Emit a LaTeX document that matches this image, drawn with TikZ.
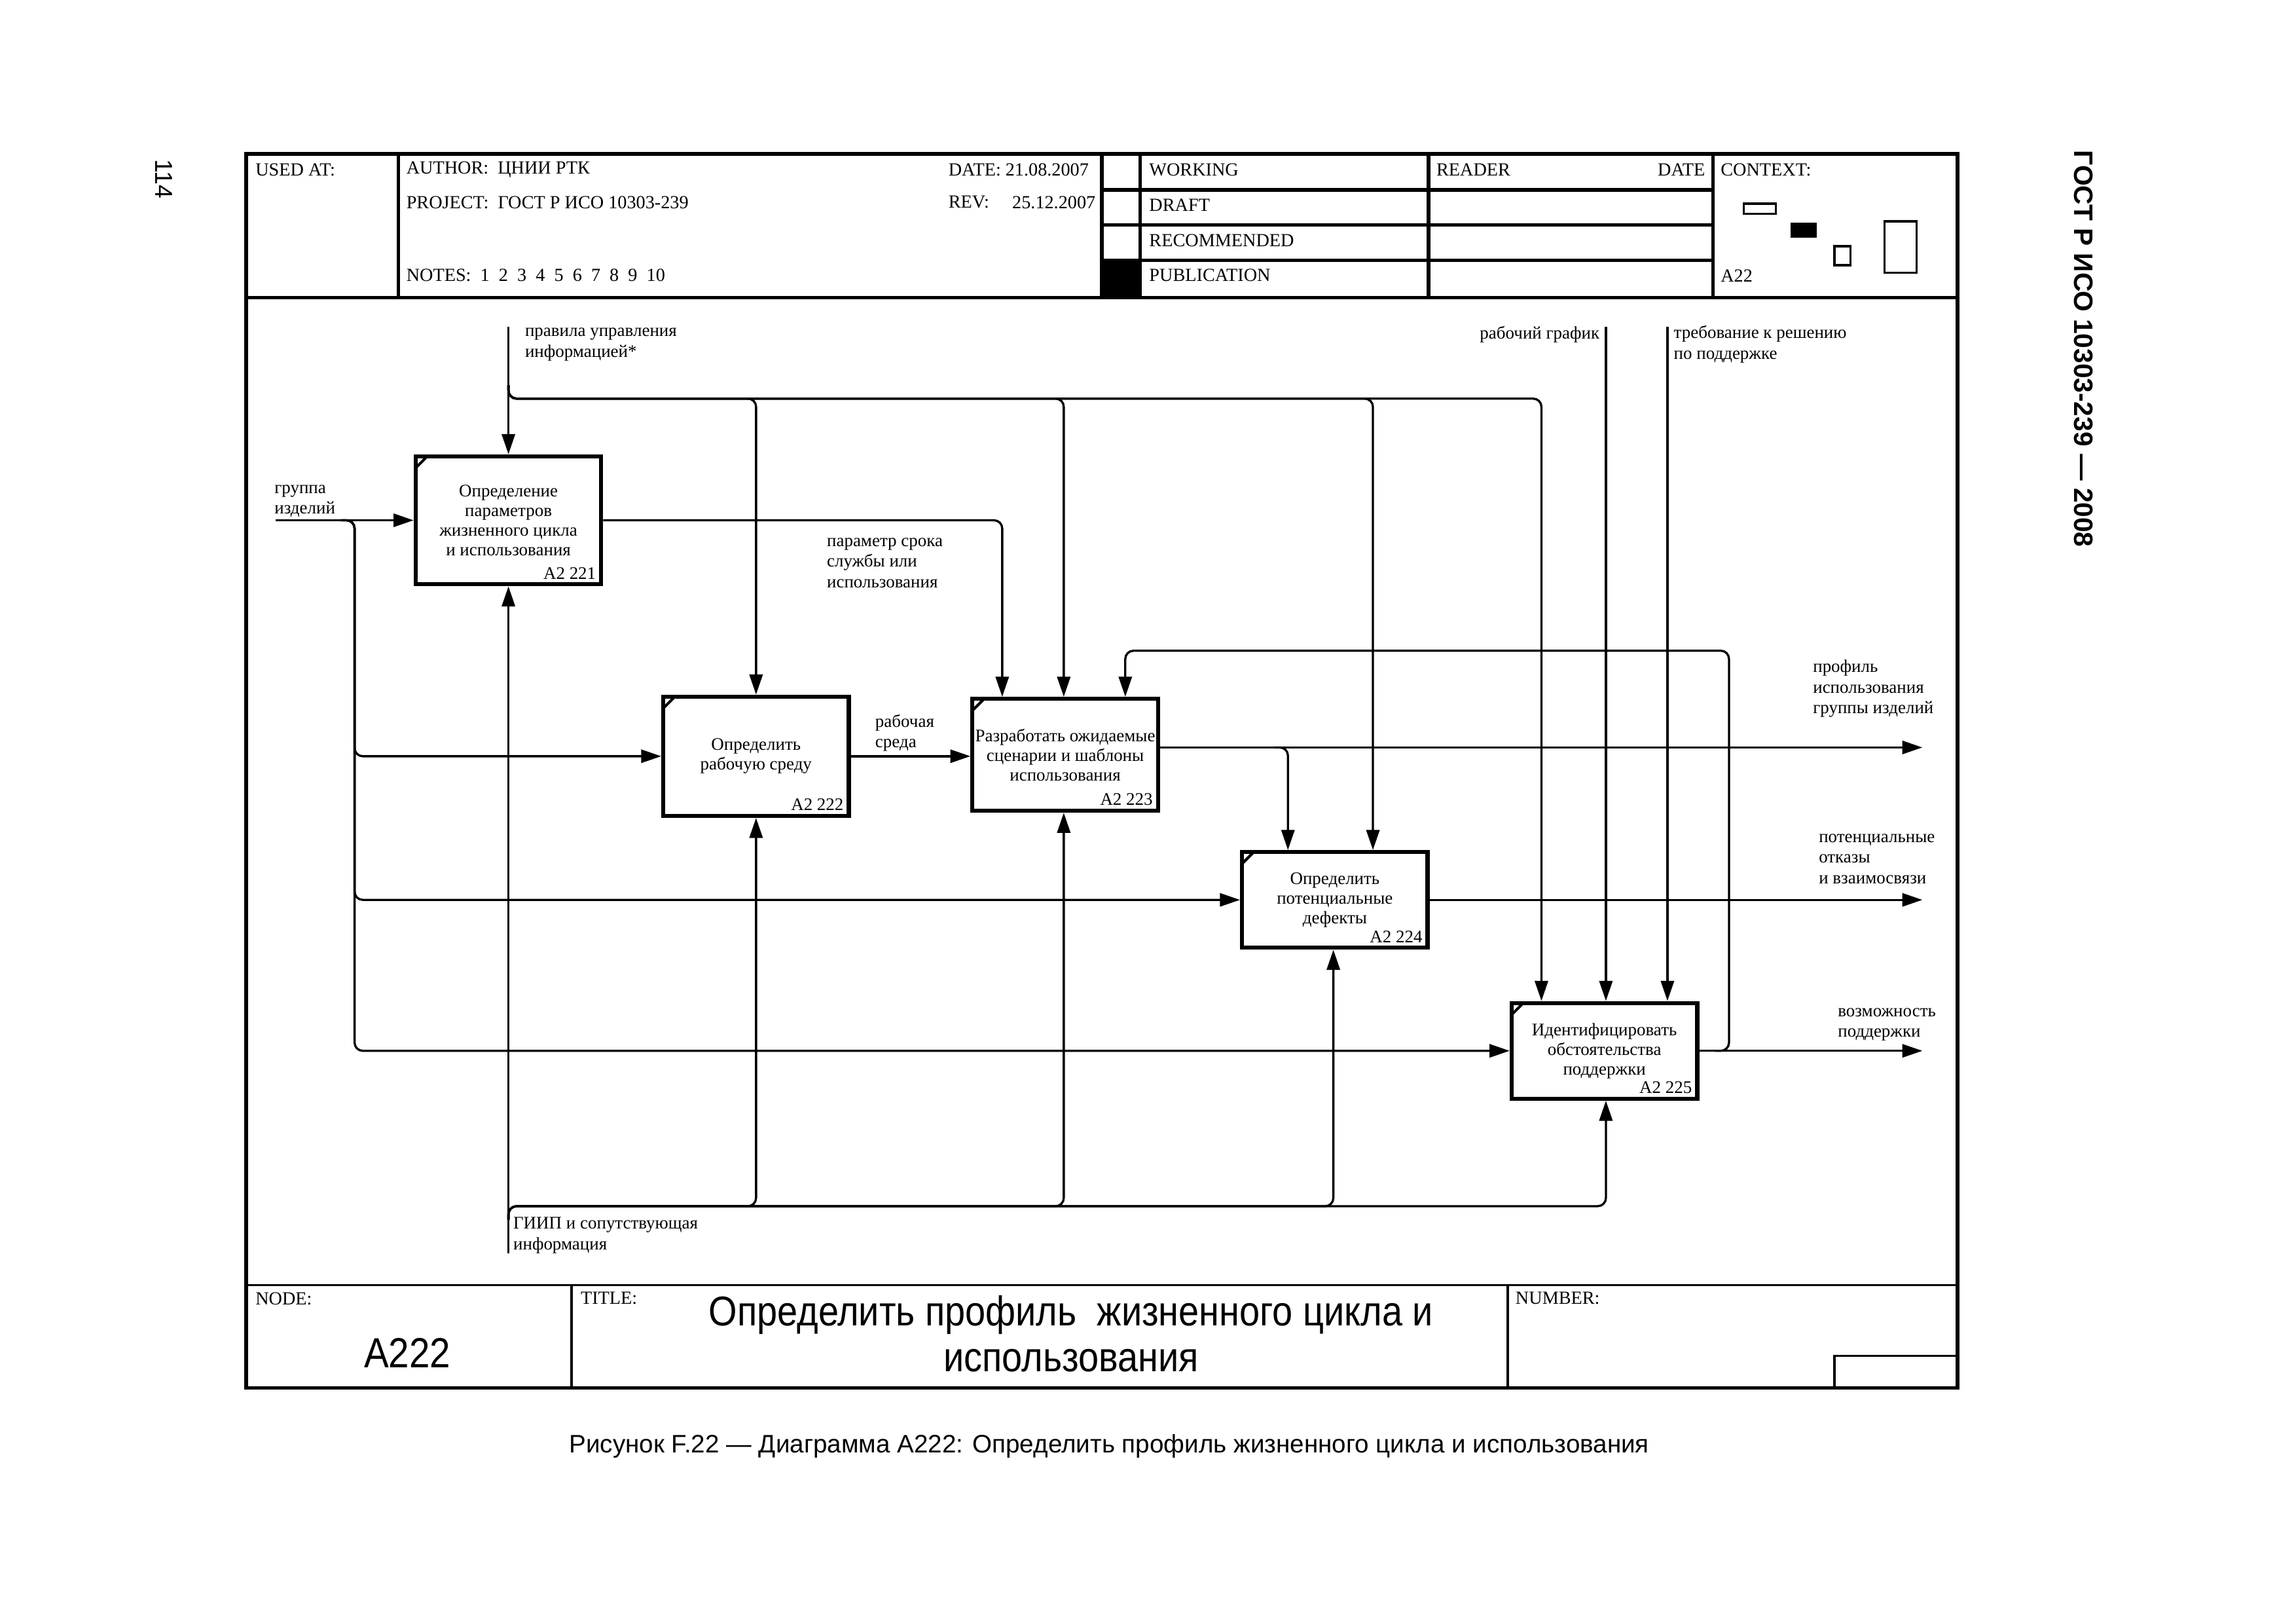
\documentclass[tikz,border=0pt]{standalone}
\usepackage{fontspec}
\setmainfont{Liberation Serif}
\newfontfamily\arialfont{Liberation Sans}
\newfontfamily\titlefont[FakeStretch=0.88]{Liberation Sans}
\usetikzlibrary{arrows.meta}

\tikzset{
  frame/.style={line width=1.3pt},
  thinframe/.style={line width=0.8pt},
  actbox/.style={draw, line width=1.5pt, minimum width=2.4cm, align=center,
                 inner sep=1pt, font=\fontsize{6.5}{7.2}\selectfont},
  boxnum/.style={inner sep=0pt, anchor=south east, xshift=-2.5pt, yshift=2.5pt,
                 font=\fontsize{6.5}{7.4}\selectfont},
  flow/.style={line width=0.8pt, -{Triangle[length=2.6mm,width=1.7mm]}},
  branch/.style={flow, rounded corners=3pt},
  lbl/.style={align=left, inner sep=0pt, anchor=west, font=\fontsize{6.5}{7.6}\selectfont},
  hdr/.style={inner sep=0pt, anchor=west, font=\fontsize{6.8}{8}\selectfont},
}

\begin{document}
\begin{tikzpicture}[x=0.018953cm, y=-0.018953cm]
	\useasboundingbox (0,0) rectangle (1567,1108);
	% form
	\draw[frame] (168,105) rectangle (1336,947);
	\draw[frame] (168,203) -- (1336,203);
	\draw[thinframe] (168,877) -- (1336,877);
	\foreach \x in {272,752,778,975,1169}
		\draw[frame] (\x,105) -- (\x,203);
	\foreach \y in {129.5,153.5,177.5}
		\draw[frame] (752,\y) -- (1169,\y);
	\fill (752,177.5) rectangle (778,203);
	\draw[thinframe] (390,877) -- (390,947);
	\draw[thinframe] (1029,877) -- (1029,947);
	\draw[thinframe] (1252,925) rectangle (1336,947);
	% context
	\draw[thinframe] (1190,139) rectangle (1212,146);
	\fill (1222,152) rectangle (1240,162);
	\draw[thinframe] (1252,168) rectangle (1263,181);
	\draw[thinframe] (1286,151) rectangle (1308,186);

	\node[hdr] (usedat) at (174,116) {USED AT:};
	\node[hdr] (author) at (277,116) {AUTHOR:\ \ ЦНИИ РТК};
	\node[hdr] (date) at (647,116) {DATE:\ 21.08.2007};
	\node[hdr] (project) at (277,138) {PROJECT:\ \ ГОСТ Р ИСО 10303-239};
	\node[hdr] (rev) at (647,138) {REV:};
	\node[hdr,anchor=east] (revdate) at (748,138) {25.12.2007};
	\node[hdr] (notes) at (277,188) {NOTES:\ \ 1\ \ 2\ \ 3\ \ 4\ \ 5\ \ 6\ \ 7\ \ 8\ \ 9\ \ 10};
	\node[hdr] (working) at (784,116) {WORKING};
	\node[hdr] (draft) at (784,140) {DRAFT};
	\node[hdr] (recommended) at (784,164) {RECOMMENDED};
	\node[hdr] (publication) at (784,188) {PUBLICATION};
	\node[hdr] (reader) at (980,116) {READER};
	\node[hdr,anchor=east] (rdate) at (1164,116) {DATE};
	\node[hdr] (context) at (1174,116) {CONTEXT:};
	\node[hdr] (ctxnode) at (1174,188) {A22};
	\node[hdr] (nodelbl) at (174,886) {NODE:};
	\node[hdr] (titlelbl) at (396,886) {TITLE:};
	\node[hdr] (numlbl) at (1034,886) {NUMBER:};
	\node[font=\titlefont\fontsize{15.5}{17}\selectfont] (nodenum) at (278,923) {A222};
	\node[align=center, font=\titlefont\fontsize{15.3}{17}\selectfont] (title) at (731,910)
		{Определить профиль\ \ жизненного цикла и\\использования};

	% activities
	\node[actbox, minimum height=1.656cm] (b1) at (347,355)
		{Определение\\параметров\\жизненного цикла\\и использования};
	\node[actbox, minimum height=1.542cm] (b2) at (516,516) {Определить\\рабочую среду};
	\node[actbox, minimum height=1.447cm] (b3) at (727,515)
		{Разработать ожидаемые\\сценарии и шаблоны\\использования};
	\node[actbox, minimum height=1.237cm] (b4) at (911,614) {Определить\\потенциальные\\дефекты};
	\node[actbox, minimum height=1.237cm] (b5) at (1095,717)
		{Идентифицировать\\обстоятельства\\поддержки};
	\node[boxnum] (n1) at (b1.south east) {A2 221};
	\node[boxnum] (n2) at (b2.south east) {A2 222};
	\node[boxnum] (n3) at (b3.south east) {A2 223};
	\node[boxnum] (n4) at (b4.south east) {A2 224};
	\node[boxnum] (n5) at (b5.south east) {A2 225};
	\foreach \b in {b1,b2,b3,b4,b5}
		\draw[line width=1pt] ([shift={(0.8pt,-5pt)}]\b.north west) -- ([shift={(5pt,-0.8pt)}]\b.north west);

	% ends of the arrows
	\coordinate (rulesIn) at (347,223);
	\coordinate (rulesJ) at (347,272);
	\coordinate (prodIn) at (188,355);
	\coordinate (prodJ) at (242,355);
	\coordinate (gipIn) at (347,855);
	\coordinate (gipJ) at (347,823);
	\coordinate (schedIn) at (1096,223);
	\coordinate (reqIn) at (1138,223);
	\coordinate (b3J) at (879,510);
	\coordinate (profOut) at (1312,510);
	\coordinate (defOut) at (1312,614);
	\coordinate (suppOut) at (1312,717);
	\coordinate (fbJ) at (1180,717);
	\coordinate (fbTop) at (1180,444);

	% controls
	\draw[flow] (rulesIn) -- (b1.north);
	\foreach \x/\b in {516/b2,726/b3,937/b4,1052/b5}
		\draw[branch] ([yshift=5pt]rulesJ) |- (\x,0 |- rulesJ) -- (\x,0 |- \b.north);
	\draw[flow] (schedIn) -- (schedIn |- b5.north);
	\draw[flow] (reqIn) -- (reqIn |- b5.north);
	% inputs
	\draw[flow] (prodIn) -- (b1.west);
	\foreach \b in {b2,b4,b5}
		\draw[branch] ([xshift=-5pt]prodJ) -| (prodJ |- \b.west) -- (\b.west);
	\draw[branch] (b1.east) -| (684,0 |- b3.north);
	\draw[flow] (b2.east) -- (b3.west |- b2.east);
	% outputs
	\draw[flow] (b3.east |- profOut) -- (profOut);
	\draw[branch] ([xshift=-5pt]b3J) -| (b3J |- b4.north);
	\draw[flow] (b4.east) -- (defOut);
	\draw[flow] (b5.east) -- (suppOut);
	\draw[branch] ([xshift=-5pt]fbJ) -| (fbTop) -| (768,0 |- b3.north);
	% mechanisms
	\draw[flow] (gipIn) -- (b1.south);
	\foreach \x/\b in {516/b2,726/b3,910/b4,1096/b5}
		\draw[branch] ([yshift=-5pt]gipJ) |- (\x,0 |- gipJ) -- (\x,0 |- \b.south);

	% arrow labels
	\node[lbl] (rulesL) at (358,235) {правила управления\\информацией*};
	\node[lbl] (prodL) at (187,342) {группа\\изделий};
	\node[lbl] (paramL) at (564,384) {параметр срока\\службы или\\использования};
	\node[lbl] (envL) at (597,500) {рабочая\\среда};
	\node[lbl,anchor=east] (schedL) at (1092,228) {рабочий график};
	\node[lbl] (reqL) at (1142,235) {требование к решению\\по поддержке};
	\node[lbl] (profL) at (1237,470) {профиль\\использования\\группы изделий};
	\node[lbl] (defL) at (1241,586) {потенциальные\\отказы\\и взаимосвязи};
	\node[lbl] (suppL) at (1254,699) {возможность\\поддержки};
	\node[lbl] (gipL) at (350,843) {ГИИП и сопутствующая\\информация};

	% page
	\node[font=\arialfont\fontsize{9.3}{11}\selectfont] (caption) at (757,987)
		{Рисунок F.22 — Диаграмма A222: Определить профиль жизненного цикла и использования};
	\node[rotate=-90, font=\arialfont\bfseries\fontsize{9.8}{11}\selectfont] (std) at (1422,238)
		{ГОСТ Р ИСО 10303-239 — 2008};
	\node[rotate=-90, font=\arialfont\fontsize{9}{11}\selectfont] (page) at (112,122) {114};
\end{tikzpicture}
\end{document}
